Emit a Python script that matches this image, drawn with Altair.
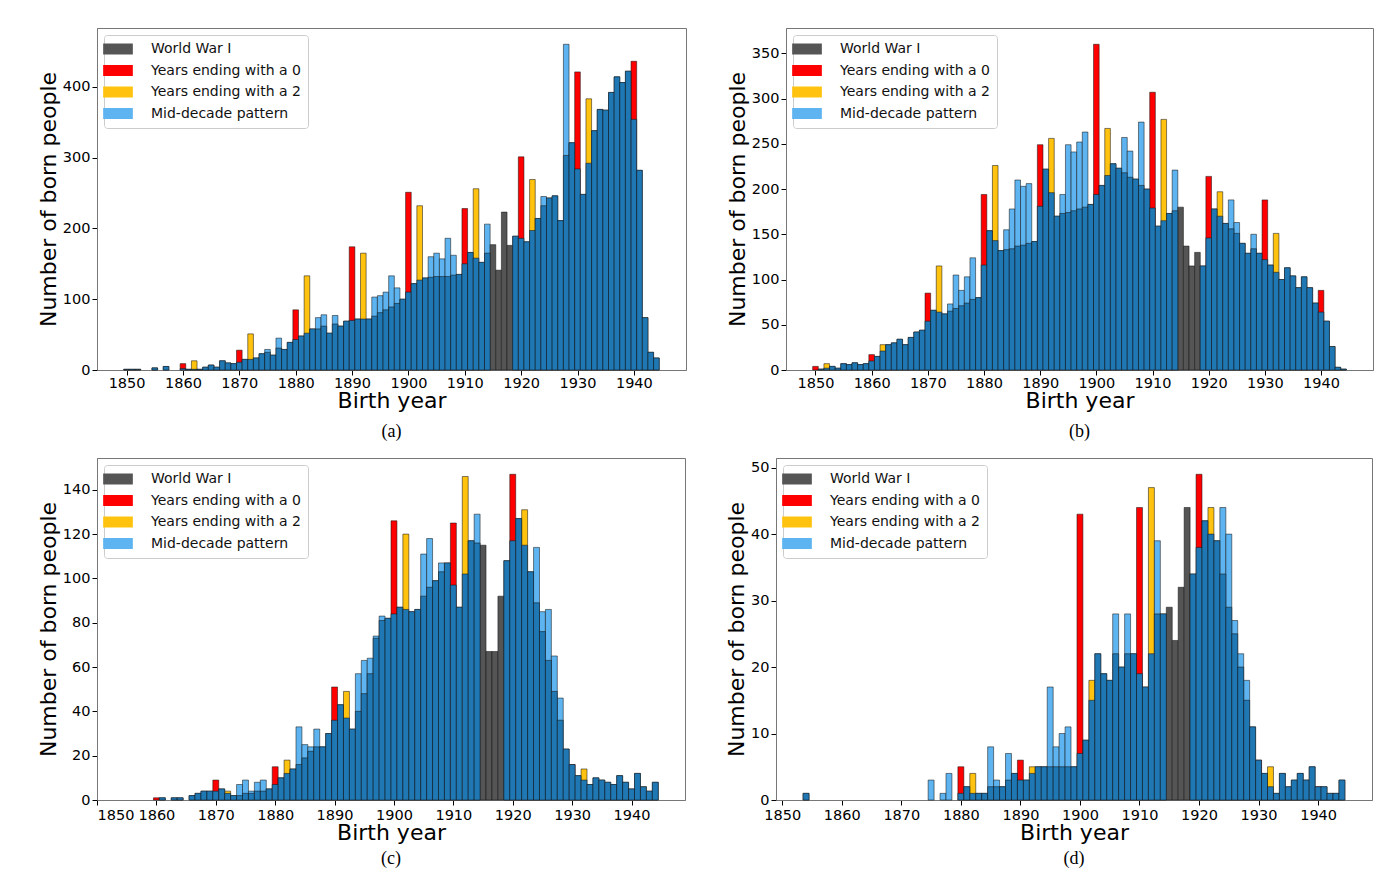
import altair as alt
import pandas as pd

YEARS = list(range(1850, 1945))
WWI = [1915, 1916, 1917, 1918]
CATEGORIES = ["World War I", "Years ending with a 0", "Years ending with a 2", "Mid-decade pattern"]
CAT_COLORS = ["#555555", "#ff0000", "#ffc20e", "#5db4f0"]
BASE_COLOR = "#1f77b4"
XTICKS = [1850, 1860, 1870, 1880, 1890, 1900, 1910, 1920, 1930, 1940]

# ---- panel (a) ----
TOTAL_A = [1, 1, 1, 0, 0, 3, 0, 5, 0, 0,
           9, 1, 13, 1, 4, 7, 4, 13, 10, 9,
           28, 15, 51, 17, 23, 29, 21, 45, 29, 39,
           85, 48, 133, 58, 74, 78, 52, 77, 62, 69,
           174, 72, 165, 72, 103, 105, 110, 133, 116, 100,
           251, 122, 232, 130, 160, 165, 157, 186, 162, 135,
           228, 166, 256, 152, 206, 177, 141, 223, 176, 189,
           301, 181, 269, 214, 245, 243, 246, 211, 460, 321,
           421, 248, 383, 338, 368, 367, 392, 414, 406, 422,
           436, 282, 74, 25, 17]
BASE_A = [1, 1, 1, 0, 0, 3, 0, 5, 0, 0,
          2, 1, 1, 1, 4, 7, 4, 13, 10, 9,
          11, 15, 15, 17, 23, 25, 21, 31, 29, 39,
          43, 48, 52, 58, 58, 62, 52, 65, 62, 69,
          70, 72, 72, 72, 76, 81, 85, 89, 94, 100,
          110, 122, 127, 130, 131, 132, 132, 132, 134, 135,
          150, 166, 158, 152, 165, 177, 141, 223, 176, 189,
          186, 181, 197, 214, 232, 243, 246, 211, 303, 321,
          284, 248, 292, 338, 368, 367, 392, 414, 406, 422,
          354, 282, 74, 25, 17]
YTICKS_A = [0, 100, 200, 300, 400]

# ---- panel (b) ----
TOTAL_B = [4, 1, 7, 4, 2, 7, 6, 8, 6, 7,
           17, 15, 28, 28, 30, 34, 28, 36, 42, 44,
           85, 66, 115, 62, 73, 105, 88, 103, 124, 80,
           194, 154, 226, 132, 155, 178, 210, 203, 206, 142,
           249, 222, 256, 170, 194, 249, 241, 252, 263, 183,
           360, 204, 267, 228, 223, 257, 242, 211, 274, 200,
           307, 159, 277, 173, 221, 180, 137, 115, 130, 115,
           214, 178, 197, 162, 188, 163, 140, 129, 150, 129,
           188, 116, 151, 100, 113, 104, 91, 103, 91, 74,
           88, 54, 26, 3, 1]
BASE_B = [0, 1, 2, 4, 2, 7, 6, 8, 6, 7,
          10, 15, 21, 28, 30, 34, 28, 36, 42, 44,
          54, 66, 64, 62, 65, 68, 71, 74, 78, 80,
          116, 154, 143, 132, 133, 134, 137, 138, 140, 142,
          181, 222, 196, 170, 173, 174, 176, 178, 180, 183,
          194, 204, 215, 228, 223, 218, 213, 211, 204, 200,
          179, 159, 165, 173, 176, 180, 137, 115, 130, 115,
          146, 178, 170, 162, 156, 151, 140, 129, 134, 129,
          122, 116, 108, 100, 113, 104, 91, 103, 91, 74,
          64, 54, 26, 3, 1]
YTICKS_B = [0, 50, 100, 150, 200, 250, 300, 350]

# ---- panel (c) ----
TOTAL_C = [0, 0, 0, 0, 0, 0, 0, 0, 0, 0,
           1, 1, 0, 1, 1, 0, 2, 3, 4, 4,
           9, 5, 4, 2, 7, 9, 4, 8, 9, 5,
           15, 10, 18, 14, 33, 25, 24, 32, 24, 30,
           51, 43, 49, 32, 57, 63, 64, 74, 83, 82,
           126, 87, 120, 85, 86, 111, 118, 99, 107, 107,
           125, 87, 146, 117, 129, 115, 67, 67, 92, 108,
           147, 127, 131, 103, 114, 85, 86, 65, 46, 23,
           16, 11, 14, 7, 10, 9, 8, 7, 11, 8,
           5, 12, 6, 4, 8]
BASE_C = [0, 0, 0, 0, 0, 0, 0, 0, 0, 0,
          0, 1, 0, 1, 1, 0, 2, 3, 4, 4,
          4, 5, 3, 2, 2, 3, 3, 4, 4, 5,
          7, 10, 12, 14, 16, 19, 22, 24, 24, 30,
          36, 43, 37, 32, 40, 48, 57, 73, 81, 82,
          84, 87, 86, 85, 86, 92, 96, 99, 103, 107,
          97, 87, 102, 117, 116, 115, 67, 67, 92, 108,
          117, 127, 115, 103, 89, 76, 63, 49, 36, 23,
          16, 11, 9, 7, 10, 9, 8, 7, 11, 8,
          5, 12, 6, 4, 8]
YTICKS_C = [0, 20, 40, 60, 80, 100, 120, 140]

# ---- panel (d) ----
TOTAL_D = [0, 0, 0, 0, 1, 0, 0, 0, 0, 0,
           0, 0, 0, 0, 0, 0, 0, 0, 0, 0,
           0, 0, 0, 0, 0, 3, 0, 1, 4, 0,
           5, 2, 4, 1, 1, 8, 3, 2, 7, 4,
           6, 3, 5, 5, 5, 17, 8, 10, 11, 5,
           43, 9, 18, 22, 19, 18, 28, 20, 28, 22,
           44, 17, 47, 39, 28, 29, 24, 32, 44, 34,
           49, 42, 44, 39, 44, 40, 27, 22, 18, 11,
           6, 4, 5, 1, 4, 2, 3, 4, 3, 5,
           2, 2, 1, 1, 3]
BASE_D = [0, 0, 0, 0, 1, 0, 0, 0, 0, 0,
          0, 0, 0, 0, 0, 0, 0, 0, 0, 0,
          0, 0, 0, 0, 0, 0, 0, 0, 0, 0,
          1, 2, 1, 1, 1, 2, 2, 2, 3, 4,
          3, 3, 4, 5, 5, 5, 5, 5, 5, 5,
          7, 9, 15, 22, 19, 18, 22, 20, 22, 22,
          19, 17, 22, 28, 28, 29, 24, 32, 44, 34,
          38, 42, 40, 39, 34, 29, 25, 20, 15, 11,
          6, 4, 2, 1, 4, 2, 3, 4, 3, 5,
          2, 2, 1, 1, 3]
YTICKS_D = [0, 10, 20, 30, 40, 50]


def panel_df(total, base):
    rows = []
    for yr, t, b in zip(YEARS, total, base):
        if t == 0:
            continue
        if yr in WWI:
            cat, b = CATEGORIES[0], 0
        elif yr % 10 == 0:
            cat = CATEGORIES[1]
        elif yr % 10 == 2:
            cat = CATEGORIES[2]
        else:
            cat = CATEGORIES[3]
        rows.append(dict(year=yr, x0=yr - 0.5, x1=yr + 0.5, total=t, base=b, cat=cat))
    return pd.DataFrame(rows)


def panel(total, base, xdom, yticks, caption, width, height, cap_offset, xlab_pad):
    df = panel_df(total, base)
    ymax = max(total) * 1.05
    xenc = alt.X("x0:Q", scale=alt.Scale(domain=xdom, nice=False, zero=False),
                 axis=alt.Axis(values=XTICKS, format="d", title="Birth year",
                               labelPadding=xlab_pad))
    yaxis = alt.Axis(values=yticks, format="d", title="Number of born people")
    yscale = alt.Scale(domain=[0, ymax], nice=False)
    outer = alt.Chart(df).mark_bar(stroke="#111111", strokeWidth=0.7, strokeOpacity=0.75).encode(
        x=xenc,
        x2="x1:Q",
        y=alt.Y("total:Q", scale=yscale, axis=yaxis),
        y2=alt.datum(0),
        color=alt.Color("cat:N", scale=alt.Scale(domain=CATEGORIES, range=CAT_COLORS),
                        title=None,
                        legend=alt.Legend(orient="none", legendX=7, legendY=7,
                                          fillColor="white", strokeColor="#cccccc",
                                          cornerRadius=3, padding=7,
                                          labelFont="DejaVu Sans", labelFontSize=14,
                                          labelColor="#111111", labelLimit=300,
                                          symbolType="M-2.7,-1H2.7V1H-2.7Z", symbolSize=121,
                                          symbolStrokeWidth=0, symbolOpacity=1,
                                          rowPadding=7.5, labelOffset=26)),
    )
    inner = alt.Chart(df).transform_filter("datum.base > 0").mark_bar(
        color=BASE_COLOR, stroke="#111111", strokeWidth=0.7, strokeOpacity=0.75).encode(
        x=xenc,
        x2="x1:Q",
        y=alt.Y("base:Q", scale=yscale, axis=yaxis),
        y2=alt.datum(0),
    )
    return alt.layer(outer, inner).properties(
        width=width, height=height,
        title=alt.TitleParams(caption, orient="bottom", font="Liberation Serif",
                              fontSize=18, fontWeight="normal", color="black",
                              offset=cap_offset),
    )


XDOM_AB = [1844.75, 1949.25]
XDOM_C = [1850, 1949]
XDOM_D = [1848.95, 1949.05]

pa = panel(TOTAL_A, BASE_A, XDOM_AB, YTICKS_A, "(a)", 589, 342, 11, 1)
pb = panel(TOTAL_B, BASE_B, XDOM_AB, YTICKS_B, "(b)", 587, 342, 11, 1)
pc = panel(TOTAL_C, BASE_C, XDOM_C, YTICKS_C, "(c)", 588, 342, 6, 3)
pd_ = panel(TOTAL_D, BASE_D, XDOM_D, YTICKS_D, "(d)", 596, 342, 6, 3)

top = alt.hconcat(pa, pb, spacing=38).resolve_scale(color="independent").resolve_legend(color="independent")
bottom = alt.hconcat(pc, pd_, spacing=39).resolve_scale(color="independent").resolve_legend(color="independent")

chart = alt.vconcat(top, bottom, spacing=16).resolve_scale(color="independent").resolve_legend(
    color="independent"
).properties(
    padding={"left": 28, "top": 19, "right": 0, "bottom": 0}
).configure_axis(
    labelFont="DejaVu Sans", labelFontSize=14.5, labelColor="black",
    titleFont="DejaVu Sans", titleFontSize=22, titleFontWeight="normal", titleColor="black",
    tickColor="black", tickSize=5, domainColor="#777777", grid=False,
).configure_axisX(titlePadding=1).configure_axisY(titlePadding=2, labelPadding=2).configure_view(
    stroke="#777777", strokeWidth=1)

chart.save("out.html", embed_options={"renderer": "svg", "actions": False})
